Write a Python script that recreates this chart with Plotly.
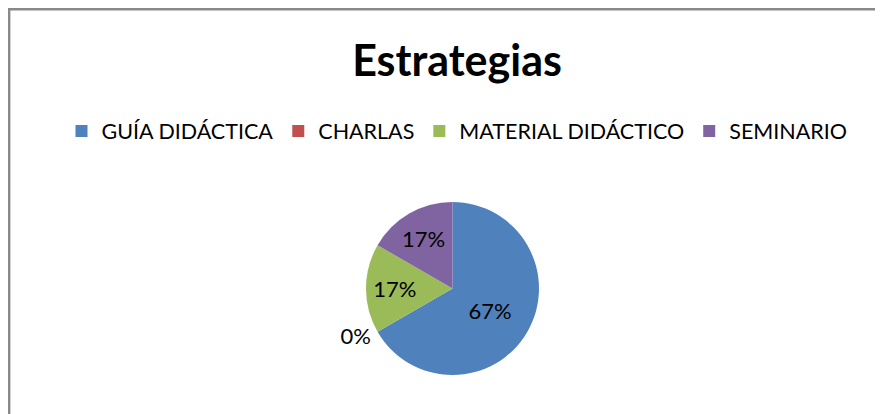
import plotly.graph_objects as go

# Estrategias - pie chart
categorias = ["GUÍA DIDÁCTICA", "CHARLAS", "MATERIAL DIDÁCTICO", "SEMINARIO"]
valores = [4, 0, 1, 1]
colores = ["#4F81BD", "#C0504D", "#9BBB59", "#8064A2"]
posiciones = ["inside", "outside", "inside", "inside"]

W, H = 883, 414
OFF = 8  # page body margin shifts the figure
FONT = "Lato"


def px_x(x):
    return (x - OFF) / W


def px_y(y):
    return 1 - (y - OFF) / H


fig = go.Figure(
    go.Pie(
        labels=categorias,
        values=valores,
        sort=False,
        direction="clockwise",
        rotation=0,
        marker=dict(colors=colores, line=dict(width=0)),
        texttemplate="%{percent:.0%}",
        textposition=posiciones,
        insidetextorientation="horizontal",
        textfont=dict(family=FONT, size=22, color="black"),
        domain=dict(x=[px_x(366), px_x(539)], y=[px_y(375), px_y(202)]),
        showlegend=True,
    )
)

fig.update_layout(
    width=W,
    height=H,
    margin=dict(l=0, r=0, t=0, b=0),
    paper_bgcolor="white",
    plot_bgcolor="white",
    font=dict(family=FONT, color="black"),
    title=dict(
        text="<b>Estrategias</b>",
        x=px_x(457),
        xanchor="center",
        y=px_y(61),
        yanchor="middle",
        font=dict(family=FONT, size=43, color="black"),
    ),
    legend=dict(
        orientation="h",
        x=px_x(457),
        xanchor="center",
        y=px_y(131),
        yanchor="middle",
        font=dict(family=FONT, size=21.5, color="black"),
        itemwidth=30,
        traceorder="normal",
    ),
    shapes=[
        dict(
            type="rect",
            xref="paper",
            yref="paper",
            x0=1.2 / W,
            x1=1.05,
            y0=-0.05,
            y1=1 - 1.2 / H,
            line=dict(color="#898989", width=2.4),
            fillcolor="rgba(0,0,0,0)",
        )
    ],
)

fig.write_html("out.html")
